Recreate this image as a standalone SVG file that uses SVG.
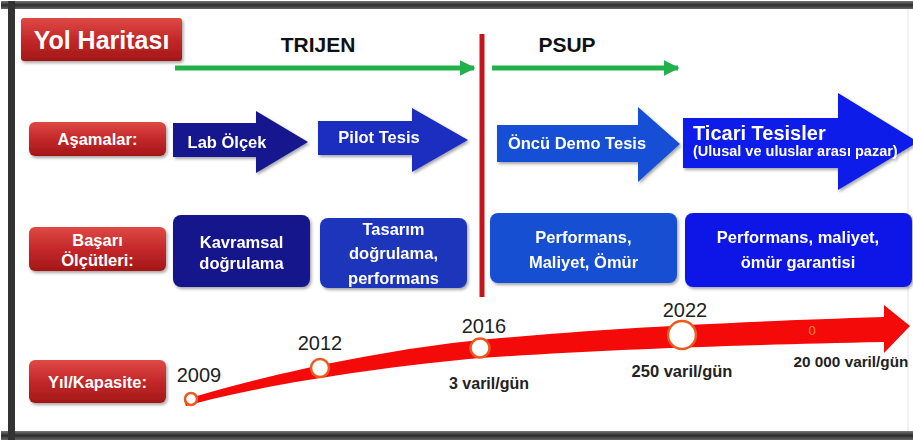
<svg xmlns="http://www.w3.org/2000/svg" width="913" height="441" viewBox="0 0 913 441">
<defs>
<linearGradient id="redG" x1="0" y1="0" x2="0" y2="1">
<stop offset="0" stop-color="#de4a44"/><stop offset="0.5" stop-color="#c4282a"/><stop offset="1" stop-color="#a31717"/>
</linearGradient>
<linearGradient id="frameG" x1="0" y1="0" x2="0" y2="1">
<stop offset="0" stop-color="#777"/><stop offset="0.5" stop-color="#2c2c2c"/><stop offset="1" stop-color="#666"/>
</linearGradient>
<filter id="sh" x="-10%" y="-10%" width="125%" height="135%">
<feDropShadow dx="1.5" dy="2" stdDeviation="1.5" flood-color="#000" flood-opacity="0.35"/>
</filter>
<marker id="gh" viewBox="0 0 10 10" refX="9" refY="5" markerWidth="3.2" markerHeight="3.2" orient="auto" markerUnits="strokeWidth">
<path d="M0,0 L10,5 L0,10 Z" fill="#22b04a"/>
</marker>
</defs>
<style>
.lbl{fill:url(#redG);filter:url(#sh)}
.lt{font-family:"Liberation Sans",Arial,sans-serif;font-weight:bold;fill:#fff;text-anchor:middle}
.hd{font-family:"Liberation Sans",Arial,sans-serif;font-weight:bold;fill:#111;font-size:21px;text-anchor:middle}
.wt{font-family:"Liberation Sans",Arial,sans-serif;font-weight:bold;fill:#fff;font-size:16.5px;text-anchor:middle}
.ws{font-family:"Liberation Sans",Arial,sans-serif;font-weight:bold;fill:#fff;text-anchor:start}
.yr{font-family:"Liberation Sans",Arial,sans-serif;fill:#222;font-size:20px;text-anchor:middle}
.cap{font-family:"Liberation Sans",Arial,sans-serif;font-weight:bold;fill:#222;text-anchor:middle}
.ga{stroke:#22b04a;stroke-width:5;fill:none}
.dot{fill:#fff;stroke:#ea5a1e;stroke-width:2.5}
</style>
<rect width="913" height="441" fill="#fff"/>
<g id="frame">
<rect x="1" y="1" width="960" height="8" fill="url(#frameG)"/>
<rect x="1" y="431" width="960" height="9" fill="url(#frameG)"/>
<rect x="8" y="1" width="7" height="439" fill="#333"/>
<line x1="908" y1="9" x2="908" y2="431" stroke="#e4e4e4" stroke-width="1"/>
</g>

<g id="title">
<rect class="lbl" x="21" y="18" width="161" height="43" rx="3"/>
<text class="lt" x="101.5" y="49" font-size="25">Yol Haritası</text>
</g>
<g id="trijen"><text class="hd" x="318" y="52">TRIJEN</text></g>
<g id="psup"><text class="hd" x="567" y="52">PSUP</text></g>

<g id="connectors">
<line class="ga" x1="175" y1="68" x2="474" y2="68" marker-end="url(#gh)"/>
<line class="ga" x1="492" y1="68" x2="678" y2="68" marker-end="url(#gh)"/>
<line x1="482" y1="34" x2="482" y2="297" stroke="#c4141c" stroke-width="5"/>
<path d="M184,400 C260,376 380,350 480,340 C600,329 700,323 884,317 L884,305 L910,326 L884,353 L884,342 C700,346 600,350 480,358 C380,367 260,385 186,406 Z" fill="#f50a0a"/>
<text x="812" y="335" font-family="Liberation Sans,Arial,sans-serif" font-size="13" fill="#f08a3a" text-anchor="middle">0</text>
</g>

<g id="asamalar">
<rect class="lbl" x="29" y="122" width="137" height="34" rx="6"/>
<text class="lt" x="97.5" y="145" font-size="16.5">Aşamalar:</text>
</g>
<g id="basari">
<rect class="lbl" x="29" y="227" width="137" height="44" rx="6"/>
<text class="lt" x="97.5" y="246" font-size="16.5">Başarı</text>
<text class="lt" x="97.5" y="266" font-size="16.5">Ölçütleri:</text>
</g>
<g id="yil">
<rect class="lbl" x="29" y="360" width="137" height="43" rx="6"/>
<text class="lt" x="97.5" y="388" font-size="16.5">Yıl/Kapasite:</text>
</g>

<g id="lab" filter="url(#sh)">
<path d="M173,123 L256,123 L256,111 L308,142 L256,173 L256,157 L173,157 Z" fill="#16168f"/>
<text class="wt" x="227" y="148">Lab Ölçek</text>
</g>
<g id="pilot" filter="url(#sh)">
<path d="M318,121 L412,121 L412,108 L468,140 L412,172 L412,155 L318,155 Z" fill="#1d2ec0"/>
<text class="wt" x="379" y="143">Pilot Tesis</text>
</g>
<g id="oncu" filter="url(#sh)">
<path d="M497,125 L638,125 L638,107 L680,144 L638,182 L638,162 L497,162 Z" fill="#1750d6"/>
<text class="wt" x="577" y="149">Öncü Demo Tesis</text>
</g>
<g id="ticari" filter="url(#sh)">
<path d="M683,118 L838,118 L838,93 L918,142 L838,190 L838,168 L683,168 Z" fill="#0c1ae8"/>
<text class="ws" x="693" y="140" font-size="20">Ticari Tesisler</text>
<text class="ws" x="693" y="156" font-size="14.5">(Ulusal ve uluslar arası pazar)</text>
</g>

<g id="kavramsal" filter="url(#sh)">
<rect x="173" y="215" width="137" height="72" rx="8" fill="#15158c"/>
<text class="wt" x="241.5" y="248">Kavramsal</text>
<text class="wt" x="241.5" y="269">doğrulama</text>
</g>
<g id="tasarim" filter="url(#sh)">
<rect x="320" y="218" width="147" height="70" rx="8" fill="#1d36bb"/>
<text class="wt" x="393.5" y="235">Tasarım</text>
<text class="wt" x="393.5" y="259">doğrulama,</text>
<text class="wt" x="393.5" y="284">performans</text>
</g>
<g id="perf1" filter="url(#sh)">
<rect x="490" y="213" width="187" height="70" rx="8" fill="#1650d2"/>
<text class="wt" x="583.5" y="243">Performans,</text>
<text class="wt" x="583.5" y="268">Maliyet, Ömür</text>
</g>
<g id="perf2" filter="url(#sh)">
<rect x="685" y="213" width="227" height="74" rx="8" fill="#0a18e6"/>
<text class="wt" x="798" y="243">Performans, maliyet,</text>
<text class="wt" x="798" y="268">ömür garantisi</text>
</g>

<g id="m2009">
<circle class="dot" cx="191" cy="399" r="6"/>
<text class="yr" x="199" y="382">2009</text>
</g>
<g id="m2012">
<circle class="dot" cx="320" cy="368" r="9"/>
<text class="yr" x="320" y="350">2012</text>
</g>
<g id="m2016">
<circle class="dot" cx="480" cy="348" r="9.5"/>
<text class="yr" x="484" y="333">2016</text>
<text class="cap" x="489" y="389" font-size="16">3 varil/gün</text>
</g>
<g id="m2022">
<circle class="dot" cx="682" cy="335" r="14"/>
<text class="yr" x="685" y="317">2022</text>
<text class="cap" x="682" y="377" font-size="16.5">250 varil/gün</text>
</g>
<g id="m20000">
<text class="cap" x="851" y="367" font-size="15.3">20 000 varil/gün</text>
</g>
</svg>
